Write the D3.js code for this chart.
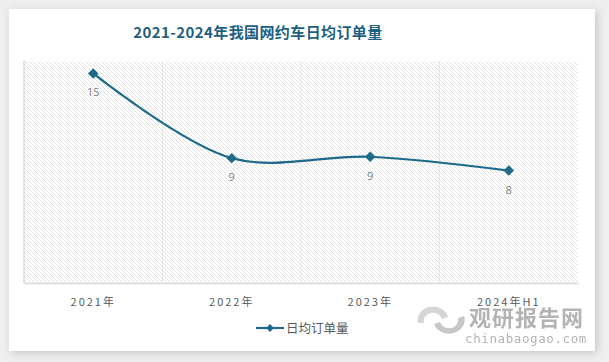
<!DOCTYPE html>
<html>
<head>
<meta charset="utf-8">
<script src="https://cdn.jsdelivr.net/npm/d3@7"></script>
<style>
  html, body { margin: 0; padding: 0; background: #efefef; }
  svg { display: block; font-family: "Noto Sans CJK SC", "Open Sans", sans-serif; }
</style>
</head>
<body>
<div id="chart"></div>
<script>
var
  categories = ["2021年", "2022年", "2023年", "2024年H1"],
  orders = [15.1, 9.0, 9.1, 8.1],
  seriesName = "日均订单量",
  titleText = "2021-2024年我国网约车日均订单量",

  WIDTH = 609,
  HEIGHT = 362,
  LINE_COLOR = "#1d6a8a",
  TITLE_COLOR = "#1f5f7f",
  LABEL_COLOR = "#7f7f7f",
  AXIS_TEXT_COLOR = "#595959",
  PLOT = { left: 24, right: 578, top: 61, bottom: 283 };

var svg = d3.select("#chart").append("svg")
  .attr("width", WIDTH)
  .attr("height", HEIGHT);

var defs = svg.append("defs");

var shadow = defs.append("filter").attr("id", "shadow")
  .attr("x", "-5%").attr("y", "-5%").attr("width", "110%").attr("height", "110%");
shadow.append("feDropShadow")
  .attr("dx", 2).attr("dy", 2).attr("stdDeviation", 4)
  .attr("flood-color", "#000").attr("flood-opacity", 0.18);

var hatch = defs.append("pattern").attr("id", "hatch")
  .attr("patternUnits", "userSpaceOnUse")
  .attr("width", 4).attr("height", 4);
hatch.append("rect").attr("width", 4).attr("height", 4).attr("fill", "#fff");
hatch.append("path")
  .attr("d", "M-1,-1 L5,5 M-1,3 L1,5 M3,-1 L5,1")
  .attr("stroke", "#e2e2e2").attr("stroke-width", 1);

// card
svg.append("rect")
  .attr("x", 9).attr("y", 9)
  .attr("width", 586).attr("height", 342)
  .attr("fill", "#fff")
  .attr("filter", "url(#shadow)");

// title
svg.append("text")
  .attr("x", 258).attr("y", 38)
  .attr("text-anchor", "middle")
  .attr("font-size", 15).attr("font-weight", "bold")
  .attr("fill", TITLE_COLOR)
  .attr("letter-spacing", 0.4)
  .text(titleText);

var x = d3.scaleBand()
  .domain(categories)
  .range([PLOT.left, PLOT.right]);

var y = d3.scaleLinear()
  .domain([0, 16])
  .range([PLOT.bottom, PLOT.top]);

// plot background
svg.append("rect")
  .attr("x", PLOT.left).attr("y", PLOT.top)
  .attr("width", PLOT.right - PLOT.left)
  .attr("height", PLOT.bottom - PLOT.top)
  .attr("fill", "url(#hatch)");

// vertical grid lines between categories
svg.append("g").selectAll("line")
  .data(categories.slice(1))
  .join("line")
  .attr("x1", function(d){ return x(d); })
  .attr("x2", function(d){ return x(d); })
  .attr("y1", PLOT.top).attr("y2", PLOT.bottom)
  .attr("stroke", "#e6e6e6").attr("stroke-width", 1);

// left and bottom borders
svg.append("line")
  .attr("x1", PLOT.left).attr("x2", PLOT.left)
  .attr("y1", PLOT.top).attr("y2", PLOT.bottom)
  .attr("stroke", "#d9d9d9").attr("stroke-width", 1.5);

var xAxis = svg.append("g")
  .attr("transform", "translate(0," + PLOT.bottom + ")")
  .call(d3.axisBottom(x).tickSize(0).tickPadding(15));
xAxis.select(".domain").attr("stroke", "#d9d9d9").attr("stroke-width", 1.5);
xAxis.selectAll("text")
  .attr("font-size", 11)
  .attr("fill", AXIS_TEXT_COLOR)
  .attr("letter-spacing", 2)
  .attr("font-family", "\"Noto Sans CJK SC\", sans-serif");

var points = categories.map(function(c, i){
  return { cat: c, value: orders[i] };
});

function cx(d){ return x(d.cat) + x.bandwidth() / 2; }
function cy(d){ return y(d.value); }

var line = d3.line()
  .x(cx).y(cy)
  .curve(d3.curveCatmullRom.alpha(0.5));

svg.append("path")
  .datum(points)
  .attr("d", line)
  .attr("fill", "none")
  .attr("stroke", LINE_COLOR)
  .attr("stroke-width", 2.2);

var diamond = d3.symbol().type(d3.symbolDiamond2).size(70);

svg.append("g").selectAll("path")
  .data(points)
  .join("path")
  .attr("d", diamond)
  .attr("transform", function(d){ return "translate(" + cx(d) + "," + cy(d) + ")"; })
  .attr("fill", LINE_COLOR);

svg.append("g").selectAll("text")
  .data(points)
  .join("text")
  .attr("x", cx)
  .attr("y", function(d){ return cy(d) + 23; })
  .attr("text-anchor", "middle")
  .attr("font-size", 11)
  .attr("fill", LABEL_COLOR)
  .attr("font-family", "\"Open Sans\", sans-serif")
  .text(function(d){ return d3.format(".0f")(d.value); });

// legend
var legend = svg.append("g").attr("transform", "translate(256,328)");
legend.append("line")
  .attr("x1", 0).attr("x2", 28)
  .attr("stroke", LINE_COLOR).attr("stroke-width", 2.2);
legend.append("path")
  .attr("d", d3.symbol().type(d3.symbolDiamond2).size(40))
  .attr("transform", "translate(14,0)")
  .attr("fill", LINE_COLOR);
legend.append("text")
  .attr("x", 30).attr("y", 4.5)
  .attr("font-size", 12.5)
  .attr("fill", AXIS_TEXT_COLOR)
  .text(seriesName);

// watermark (sits over the last axis label, as in the source image)
var mark = svg.append("g").attr("opacity", 0.75);
mark.append("path")
  .attr("d", "M418,323 a15,13 0 1,1 30,-6 l-6,2 a9,8 0 1,0 -18,4 z")
  .attr("fill", "#c8c8c8");
mark.append("path")
  .attr("d", "M464,316 a15,13 0 1,1 -30,8 l6,-2 a9,8 0 1,0 18,-4 z")
  .attr("fill", "#b5b5b5");
mark.append("text")
  .attr("x", 469).attr("y", 326)
  .attr("font-size", 22).attr("font-weight", "bold")
  .attr("fill", "#9a9a9a")
  .attr("letter-spacing", 1)
  .text("观研报告网");
mark.append("text")
  .attr("x", 465).attr("y", 343)
  .attr("font-size", 12.5)
  .attr("fill", "#9a9a9a")
  .attr("letter-spacing", 0.6)
  .attr("font-family", "\"DejaVu Sans Mono\", monospace")
  .text("chinabaogao.com");
</script>
</body>
</html>
